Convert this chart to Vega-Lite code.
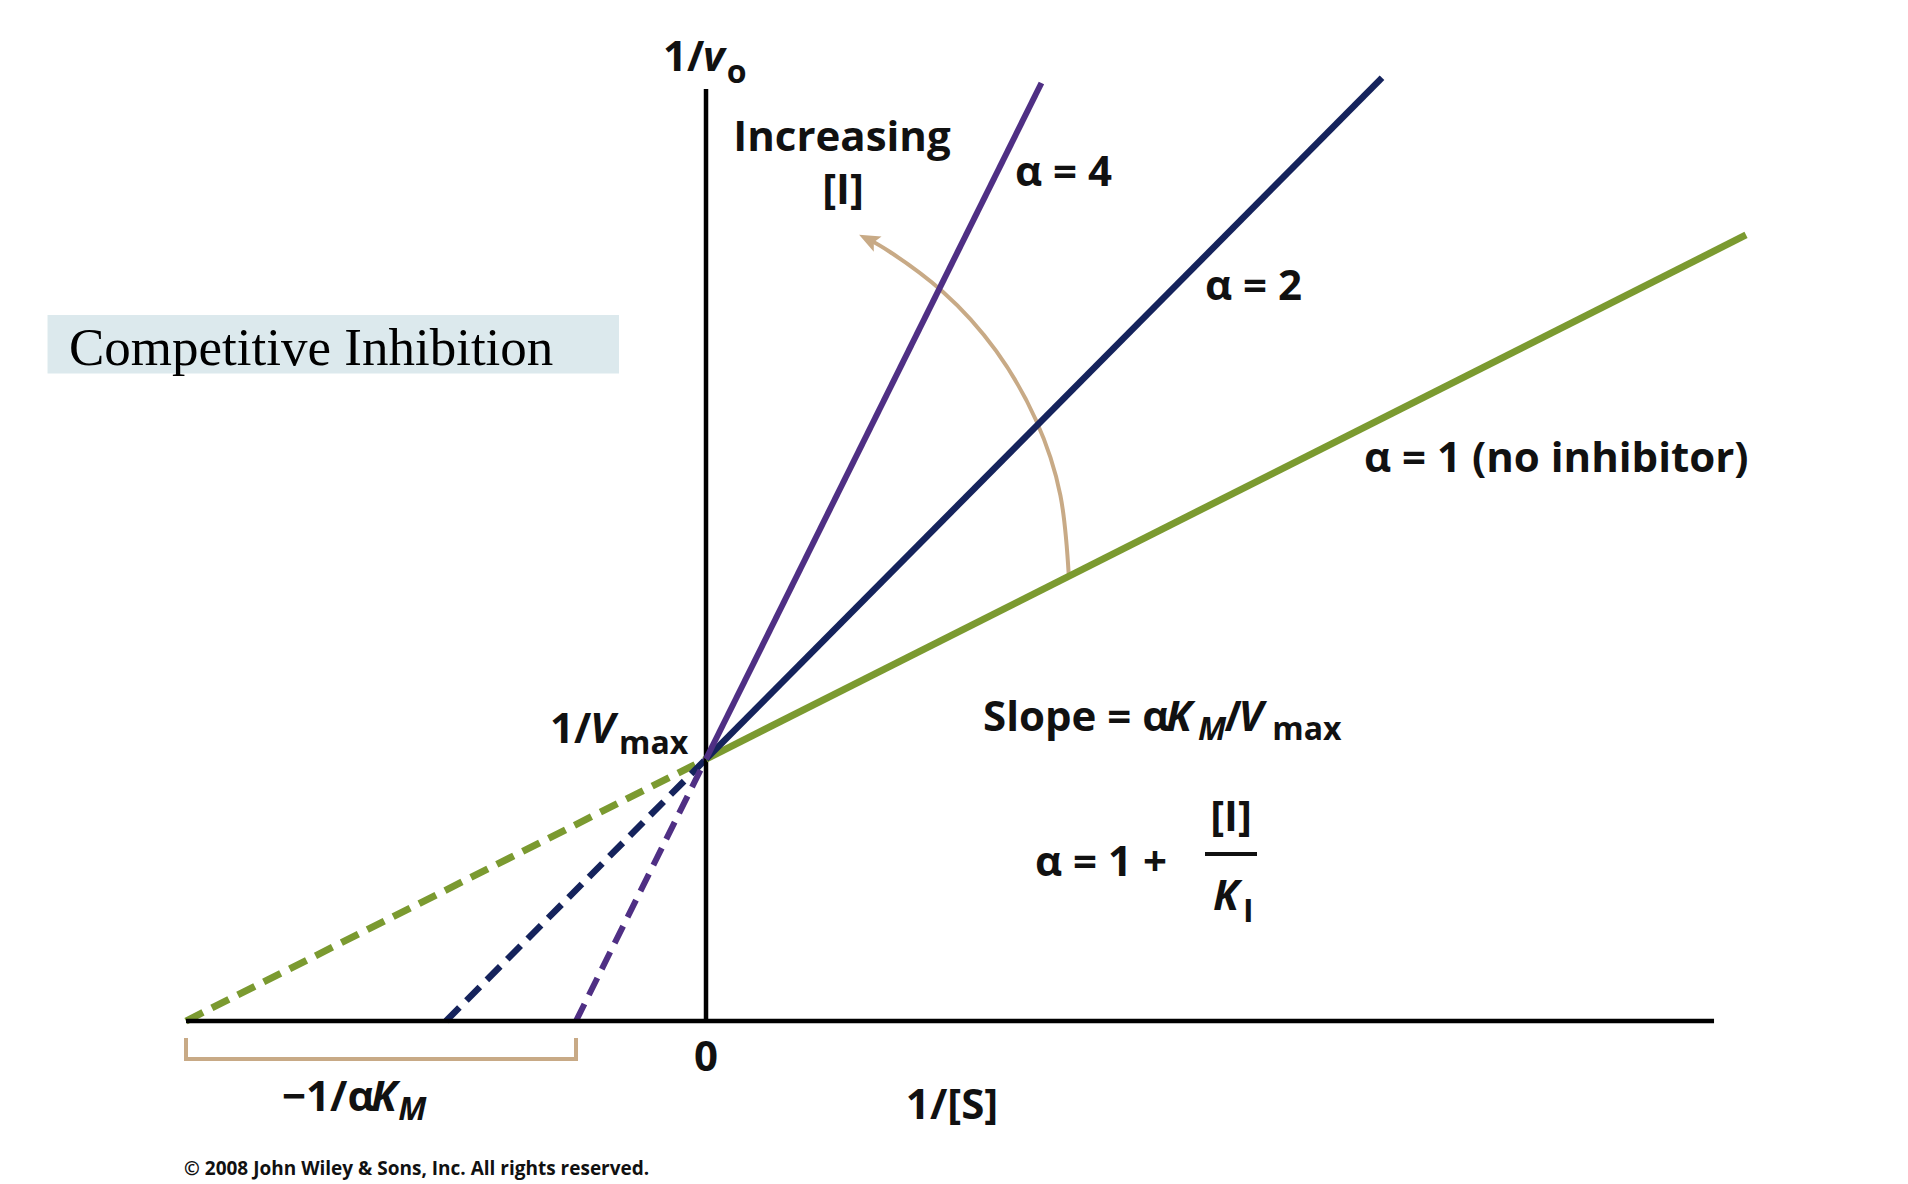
{
  "$schema": "https://vega.github.io/schema/vega-lite/v6.json",
  "width": 1908,
  "height": 1184,
  "autosize": {"type": "fit", "contains": "padding"},
  "padding": 0,
  "background": "white",
  "view": {"stroke": null},
  "datasets": {
    "box": [{"x": -1.2663, "x2": -0.1673, "y": 2.6947, "y2": 2.4714}],
    "axes": [
      {"x": -1, "x2": 1.9385, "y": 0, "y2": 0},
      {"x": 0, "x2": 0, "y": -0.005, "y2": 3.557}
    ],
    "solid": [
      {"series": "a1", "x": 0, "y": 1},
      {"series": "a1", "x": 2.0, "y": 3.0},
      {"series": "a2", "x": 0, "y": 1},
      {"series": "a2", "x": 1.3, "y": 3.6},
      {"series": "a4", "x": 0, "y": 1},
      {"series": "a4", "x": 0.645, "y": 3.58}
    ],
    "dashed": [
      {"series": "a1", "x": -1, "y": 0},
      {"series": "a1", "x": 0, "y": 1},
      {"series": "a2", "x": -0.5, "y": 0},
      {"series": "a2", "x": 0, "y": 1},
      {"series": "a4", "x": -0.25, "y": 0},
      {"series": "a4", "x": 0, "y": 1}
    ],
    "arc": [
      {"o": 1, "x": 0.6975, "y": 1.705},
      {"o": 2, "x": 0.6815, "y": 2.0065},
      {"o": 3, "x": 0.6342, "y": 2.295},
      {"o": 4, "x": 0.5579, "y": 2.5576},
      {"o": 5, "x": 0.4558, "y": 2.7828},
      {"o": 6, "x": 0.354, "y": 2.935},
      {"o": 7, "x": 0.3154, "y": 2.9798}
    ],
    "arrow": [{"x": 0.3154, "y": 2.9798}],
    "bracket": [
      {"o": 1, "x": -1, "y": -0.0649},
      {"o": 2, "x": -1, "y": -0.145},
      {"o": 3, "x": -0.25, "y": -0.145},
      {"o": 4, "x": -0.25, "y": -0.0649}
    ],
    "fracbar": [{"x": 0.9596, "x2": 1.0596, "y": 0.6374}],
    "tb": [
      {"x": -0.0827, "y": 3.6275, "t": "1/"},
      {"x": 0.5942, "y": 3.187, "t": "α = 4"},
      {"x": 0.9596, "y": 2.7519, "t": "α = 2"},
      {"x": 1.2654, "y": 2.0954, "t": "α = 1 (no inhibitor)"},
      {"x": -0.3, "y": 1.0611, "t": "1/"},
      {"x": 0.5327, "y": 1.1069, "t": "Slope = α"},
      {"x": 0.997, "y": 1.1069, "t": "/"},
      {"x": 0.6327, "y": 0.5534, "t": "α = 1 +"},
      {"x": -0.8154, "y": -0.3435, "t": "−1/α"}
    ],
    "ti": [
      {"x": -0.0058, "y": 3.6275, "t": "v"},
      {"x": -0.2231, "y": 1.0611, "t": "V"},
      {"x": 0.8846, "y": 1.1069, "t": "K"},
      {"x": 1.024, "y": 1.1069, "t": "V"},
      {"x": 0.975, "y": 0.4237, "t": "K"},
      {"x": -0.6442, "y": -0.3435, "t": "K"}
    ],
    "ts": [
      {"x": 0.04, "y": 3.5802, "t": "o"},
      {"x": -0.1673, "y": 1.0191, "t": "max"},
      {"x": 1.089, "y": 1.0725, "t": "max"},
      {"x": 1.0327, "y": 0.3779, "t": "I"}
    ],
    "tsi": [
      {"x": 0.9462, "y": 1.0725, "t": "M"},
      {"x": -0.592, "y": -0.3779, "t": "M"}
    ],
    "tc": [
      {"x": 0.2615, "y": 3.3206, "t": "Increasing"},
      {"x": 0.2635, "y": 3.12, "t": "[I]"},
      {"x": 1.0096, "y": 0.7252, "t": "[I]"},
      {"x": 0, "y": -0.1908, "t": "0"},
      {"x": 0.4731, "y": -0.374, "t": "1/[S]"}
    ],
    "title": [{"x": -1.225, "y": 2.5038, "t": "Competitive Inhibition"}],
    "copy": [{"x": -1.0038, "y": -0.5878, "t": "© 2008 John Wiley & Sons, Inc. All rights reserved."}]
  },
  "layer": [
    {
      "data": {"name": "box"},
      "mark": {"type": "rect", "color": "#dce9ed"},
      "encoding": {
        "x": {"field": "x", "type": "quantitative", "scale": {"domain": [-1.3577, 2.3115], "nice": false, "zero": false}, "axis": null},
        "x2": {"field": "x2"},
        "y": {"field": "y", "type": "quantitative", "scale": {"domain": [-0.6221, 3.8969], "nice": false, "zero": false}, "axis": null},
        "y2": {"field": "y2"}
      }
    },
    {
      "data": {"name": "bracket"},
      "mark": {"type": "line", "color": "#c8aa86", "strokeWidth": 4, "strokeJoin": "miter", "strokeCap": "butt"},
      "encoding": {
        "x": {"field": "x", "type": "quantitative", "scale": {"domain": [-1.3577, 2.3115], "nice": false, "zero": false}, "axis": null},
        "y": {"field": "y", "type": "quantitative", "scale": {"domain": [-0.6221, 3.8969], "nice": false, "zero": false}, "axis": null},
        "order": {"field": "o"}
      }
    },
    {
      "data": {"name": "dashed"},
      "mark": {"type": "line", "strokeDash": [19, 10], "strokeCap": "butt"},
      "encoding": {
        "x": {"field": "x", "type": "quantitative", "scale": {"domain": [-1.3577, 2.3115], "nice": false, "zero": false}, "axis": null},
        "y": {"field": "y", "type": "quantitative", "scale": {"domain": [-0.6221, 3.8969], "nice": false, "zero": false}, "axis": null},
        "color": {"field": "series", "type": "nominal", "scale": {"domain": ["a1", "a2", "a4"], "range": ["#7b9a30", "#15235c", "#4f2f84"]}, "legend": null},
        "strokeWidth": {"field": "series", "type": "nominal", "scale": {"domain": ["a1", "a2", "a4"], "range": [7, 6, 5]}, "legend": null}
      }
    },
    {
      "data": {"name": "axes"},
      "mark": {"type": "rule", "color": "#000000", "strokeWidth": 4.5},
      "encoding": {
        "x": {"field": "x", "type": "quantitative", "scale": {"domain": [-1.3577, 2.3115], "nice": false, "zero": false}, "axis": null},
        "x2": {"field": "x2"},
        "y": {"field": "y", "type": "quantitative", "scale": {"domain": [-0.6221, 3.8969], "nice": false, "zero": false}, "axis": null},
        "y2": {"field": "y2"}
      }
    },
    {
      "data": {"name": "arc"},
      "mark": {"type": "line", "color": "#c8aa86", "strokeWidth": 4, "interpolate": "natural"},
      "encoding": {
        "x": {"field": "x", "type": "quantitative", "scale": {"domain": [-1.3577, 2.3115], "nice": false, "zero": false}, "axis": null},
        "y": {"field": "y", "type": "quantitative", "scale": {"domain": [-0.6221, 3.8969], "nice": false, "zero": false}, "axis": null},
        "order": {"field": "o"}
      }
    },
    {
      "data": {"name": "arrow"},
      "mark": {"type": "point", "shape": "M0,-1L0.7,0.7L0,0.35L-0.7,0.7Z", "filled": true, "color": "#c8aa86", "opacity": 1, "size": 600, "angle": -63},
      "encoding": {
        "x": {"field": "x", "type": "quantitative", "scale": {"domain": [-1.3577, 2.3115], "nice": false, "zero": false}, "axis": null},
        "y": {"field": "y", "type": "quantitative", "scale": {"domain": [-0.6221, 3.8969], "nice": false, "zero": false}, "axis": null}
      }
    },
    {
      "data": {"name": "solid"},
      "mark": {"type": "line", "strokeCap": "butt"},
      "encoding": {
        "x": {"field": "x", "type": "quantitative", "scale": {"domain": [-1.3577, 2.3115], "nice": false, "zero": false}, "axis": null},
        "y": {"field": "y", "type": "quantitative", "scale": {"domain": [-0.6221, 3.8969], "nice": false, "zero": false}, "axis": null},
        "color": {"field": "series", "type": "nominal", "scale": {"domain": ["a1", "a2", "a4"], "range": ["#7b9a30", "#15235c", "#4f2f84"]}, "legend": null},
        "strokeWidth": {"field": "series", "type": "nominal", "scale": {"domain": ["a1", "a2", "a4"], "range": [7, 6, 5]}, "legend": null}
      }
    },
    {
      "data": {"name": "fracbar"},
      "mark": {"type": "rule", "color": "#111111", "strokeWidth": 4},
      "encoding": {
        "x": {"field": "x", "type": "quantitative", "scale": {"domain": [-1.3577, 2.3115], "nice": false, "zero": false}, "axis": null},
        "x2": {"field": "x2"},
        "y": {"field": "y", "type": "quantitative", "scale": {"domain": [-0.6221, 3.8969], "nice": false, "zero": false}, "axis": null}
      }
    },
    {
      "data": {"name": "tb"},
      "mark": {"type": "text", "font": "Open Sans", "fontWeight": "bold", "fontSize": 42, "align": "left", "baseline": "alphabetic", "color": "#111111"},
      "encoding": {
        "x": {"field": "x", "type": "quantitative", "scale": {"domain": [-1.3577, 2.3115], "nice": false, "zero": false}, "axis": null},
        "y": {"field": "y", "type": "quantitative", "scale": {"domain": [-0.6221, 3.8969], "nice": false, "zero": false}, "axis": null},
        "text": {"field": "t"}
      }
    },
    {
      "data": {"name": "ti"},
      "mark": {"type": "text", "font": "Open Sans", "fontWeight": "bold", "fontStyle": "italic", "fontSize": 42, "align": "left", "baseline": "alphabetic", "color": "#111111"},
      "encoding": {
        "x": {"field": "x", "type": "quantitative", "scale": {"domain": [-1.3577, 2.3115], "nice": false, "zero": false}, "axis": null},
        "y": {"field": "y", "type": "quantitative", "scale": {"domain": [-0.6221, 3.8969], "nice": false, "zero": false}, "axis": null},
        "text": {"field": "t"}
      }
    },
    {
      "data": {"name": "ts"},
      "mark": {"type": "text", "font": "Open Sans", "fontWeight": "bold", "fontSize": 32, "align": "left", "baseline": "alphabetic", "color": "#111111"},
      "encoding": {
        "x": {"field": "x", "type": "quantitative", "scale": {"domain": [-1.3577, 2.3115], "nice": false, "zero": false}, "axis": null},
        "y": {"field": "y", "type": "quantitative", "scale": {"domain": [-0.6221, 3.8969], "nice": false, "zero": false}, "axis": null},
        "text": {"field": "t"}
      }
    },
    {
      "data": {"name": "tsi"},
      "mark": {"type": "text", "font": "Open Sans", "fontWeight": "bold", "fontStyle": "italic", "fontSize": 32, "align": "left", "baseline": "alphabetic", "color": "#111111"},
      "encoding": {
        "x": {"field": "x", "type": "quantitative", "scale": {"domain": [-1.3577, 2.3115], "nice": false, "zero": false}, "axis": null},
        "y": {"field": "y", "type": "quantitative", "scale": {"domain": [-0.6221, 3.8969], "nice": false, "zero": false}, "axis": null},
        "text": {"field": "t"}
      }
    },
    {
      "data": {"name": "tc"},
      "mark": {"type": "text", "font": "Open Sans", "fontWeight": "bold", "fontSize": 42, "align": "center", "baseline": "alphabetic", "color": "#111111"},
      "encoding": {
        "x": {"field": "x", "type": "quantitative", "scale": {"domain": [-1.3577, 2.3115], "nice": false, "zero": false}, "axis": null},
        "y": {"field": "y", "type": "quantitative", "scale": {"domain": [-0.6221, 3.8969], "nice": false, "zero": false}, "axis": null},
        "text": {"field": "t"}
      }
    },
    {
      "data": {"name": "title"},
      "mark": {"type": "text", "font": "Liberation Serif", "fontSize": 53, "align": "left", "baseline": "alphabetic", "color": "#000000"},
      "encoding": {
        "x": {"field": "x", "type": "quantitative", "scale": {"domain": [-1.3577, 2.3115], "nice": false, "zero": false}, "axis": null},
        "y": {"field": "y", "type": "quantitative", "scale": {"domain": [-0.6221, 3.8969], "nice": false, "zero": false}, "axis": null},
        "text": {"field": "t"}
      }
    },
    {
      "data": {"name": "copy"},
      "mark": {"type": "text", "font": "Open Sans", "fontWeight": "bold", "fontSize": 19, "align": "left", "baseline": "alphabetic", "color": "#111111"},
      "encoding": {
        "x": {"field": "x", "type": "quantitative", "scale": {"domain": [-1.3577, 2.3115], "nice": false, "zero": false}, "axis": null},
        "y": {"field": "y", "type": "quantitative", "scale": {"domain": [-0.6221, 3.8969], "nice": false, "zero": false}, "axis": null},
        "text": {"field": "t"}
      }
    }
  ]
}
